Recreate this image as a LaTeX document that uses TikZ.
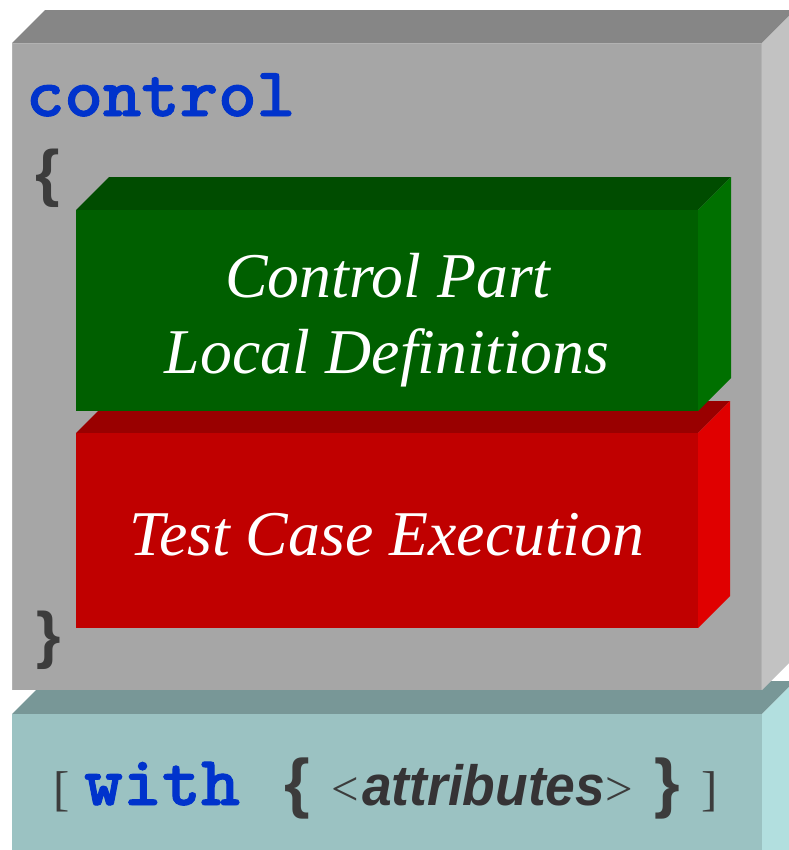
\documentclass[tikz,border=0pt]{standalone}
\usepackage{fontspec}
\setmainfont{Liberation Serif}
\setsansfont{Liberation Sans}
\newfontfamily\kwfont{lmmonolt10-bold.otf}[FakeBold=1.3]

\definecolor{grayfront}{HTML}{A6A6A6}
\definecolor{graytop}{HTML}{868686}
\definecolor{grayside}{HTML}{C2C2C2}
\definecolor{grayedge}{HTML}{B2B2B2}
\definecolor{tealfront}{HTML}{9BC2C2}
\definecolor{tealtop}{HTML}{789797}
\definecolor{tealside}{HTML}{B2DFDF}
\definecolor{greenfront}{HTML}{005F00}
\definecolor{greentop}{HTML}{004C00}
\definecolor{greenside}{HTML}{007000}
\definecolor{redfront}{HTML}{C00000}
\definecolor{redtop}{HTML}{990000}
\definecolor{redside}{HTML}{E00000}
\definecolor{kwblue}{HTML}{0033CC}
\definecolor{punct}{HTML}{3C3C3C}
\definecolor{attrtext}{HTML}{353335}

% a slab seen from the front-left above:
% #1 front, #2 top, #3 side colour; (#4,#5)-(#6,#7) front face; #8 depth
\newcommand\slab[8]{%
  \fill[#2] (#4,#5) -- ++(#8,-#8) -- ([shift={(#8,-#8)}]#6,#5) -- (#6,#5) -- cycle;
  \fill[#3] (#6,#5) -- ++(#8,-#8) -- ([shift={(#8,-#8)}]#6,#7) -- (#6,#7) -- cycle;
  \fill[#1] (#4,#5) rectangle (#6,#7);
}

\tikzset{
  txt/.style={inner sep=0pt, outer sep=0pt},
  keyword/.style={txt, text=kwblue, font=\kwfont\fontsize{#1}{#1}\selectfont},
  bracefont/.style={txt, text=punct, font=\sffamily\bfseries\fontsize{#1}{#1}\selectfont},
  caption/.style={txt, text=white, font=\itshape\fontsize{64}{76}\selectfont},
  optmark/.style={txt, text=punct, font=\fontsize{49}{49}\selectfont},
}

\begin{document}
\begin{tikzpicture}[x=1bp,y=-1bp]
  \useasboundingbox (0,0) rectangle (789,850);

  % attribute slab below, then the control slab over it
  \slab{tealfront}{tealtop}{tealside}{12}{714}{762}{880}{33}
  \slab{grayfront}{graytop}{grayside}{12}{43}{762}{690}{33}
  \draw[grayedge, line width=1bp] (12.5,690) -- (12.5,43.5) -- (761.5,43.5) -- (761.5,690);

  % inner parts: execution first, local definitions on top
  \slab{redfront}{redtop}{redside}{76}{433}{698}{628}{32}
  \slab{greenfront}{greentop}{greenside}{76}{210}{698}{411}{33}

  % keyword and braces of the control part
  \node[keyword=70, anchor=base west, xscale=1.05] (ctl) at (26,116) {control};
  \node[bracefont=63, anchor=base] (lbrace) at (48,194) {\{};
  \node[bracefont=63, anchor=base] (rbrace) at (49,656) {\}};

  % captions of the inner parts
  \node[caption, anchor=base] (cpart) at (388,297) {Control Part};
  \node[caption, anchor=base] (ldefs) at (387,373) {Local Definitions};
  \node[caption, anchor=base] (tcexec) at (387,555) {Test Case Execution};

  % optional with-clause
  \node[optmark, anchor=base west] (lopt) at (53,805) {[};
  \node[keyword=71, anchor=base west, xscale=1.05] (with) at (84,805) {with};
  \node[bracefont=66, anchor=base] (wlbrace) at (297,805) {\{};
  \node[optmark, anchor=base west] (langle) at (331,805) {<};
  \node[txt, anchor=base west, text=attrtext, xscale=0.94, font=\sffamily\bfseries\itshape\fontsize{57}{57}\selectfont] (attrs) at (362,805) {attributes};
  \node[optmark, anchor=base west] (rangle) at (605,805) {>};
  \node[bracefont=66, anchor=base] (wrbrace) at (667,805) {\}};
  \node[optmark, anchor=base west] (ropt) at (701,805) {]};
\end{tikzpicture}
\end{document}
